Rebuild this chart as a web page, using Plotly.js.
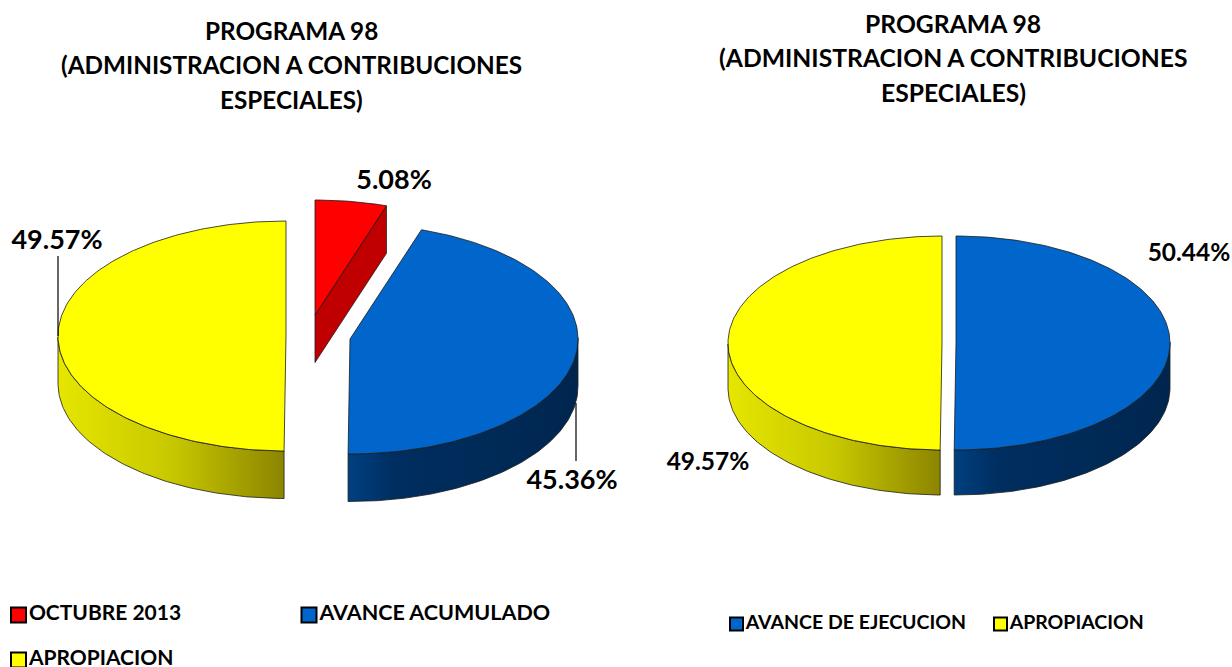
<!DOCTYPE html>
<html>
<head>
<meta charset="utf-8">
<script src="https://cdn.plot.ly/plotly-3.0.1.min.js"></script>
<style>html,body{margin:0;padding:0;background:#fff}</style>
</head>
<body>
<div id="chart" style="width:1232px;height:667px"></div>
<script>
// --- data ---
const titleLines = ['PROGRAMA 98', '(ADMINISTRACION A CONTRIBUCIONES', 'ESPECIALES)'];
const leftCategories = ['OCTUBRE 2013', 'AVANCE ACUMULADO', 'APROPIACION'];
const leftValues = [5.08, 45.36, 49.57];
const rightCategories = ['AVANCE DE EJECUCION', 'APROPIACION'];
const rightValues = [50.44, 49.57];

// --- styling and layout of the marks ---
const FONT = 'Lato, Carlito, Calibri, sans-serif';
const topColor = {'OCTUBRE 2013':'#ff0000','AVANCE ACUMULADO':'#0066cc','AVANCE DE EJECUCION':'#0066cc','APROPIACION':'#ffff00'};
const sideScale = {
  'OCTUBRE 2013':[[0,'#c00000'],[1,'#c00000']],
  'AVANCE ACUMULADO':[[0,'#004080'],[0.2,'#002e60'],[1,'#00264f']],
  'AVANCE DE EJECUCION':[[0,'#004080'],[0.2,'#002e60'],[1,'#00264f']],
  'APROPIACION':[[0,'#e6e600'],[0.5,'#c8c800'],[1,'#8c8500']]
};
const OUTLINE = '#1a1a1a';
const leftPie = {rx:228, ry:115, depth:47.5, centers:[[315,315],[350,339],[286,336]]};
const rightPie = {rx:214, ry:107, depth:45, centers:[[956,343],[942,343]]};

// Excel's 3D projection squeezes the angle slightly toward the far side
const DEG = Math.PI/180;
const warp = d => d - 1.1*Math.pow(Math.sin(d*DEG/2),2);
const pt = (c,g,d,drop) => [c[0]+g.rx*Math.sin(warp(d)*DEG), c[1]-g.ry*Math.cos(warp(d)*DEG)+(drop||0)];
function arc(c,g,a,b,drop){
  const n = Math.max(2,Math.ceil(Math.abs(b-a))), out=[];
  for(let i=0;i<=n;i++) out.push(pt(c,g,a+(b-a)*i/n,drop));
  return out;
}
function poly(points,color,scale){
  const pts = points.concat([points[0]]);
  const t = {type:'scatter',mode:'lines',x:pts.map(p=>p[0]),y:pts.map(p=>p[1]),fill:'toself',
    line:{color:OUTLINE,width:0.8},hoverinfo:'skip',showlegend:false};
  if(scale) t.fillgradient={type:'horizontal',colorscale:scale};
  else t.fillcolor=color;
  return t;
}
function slices(cats,vals,g){
  const sides=[], tops=[]; let a=0;
  vals.forEach((v,i)=>{
    const b=Math.min(a+v*3.6,360), c=g.centers[i], cat=cats[i];
    const s=Math.max(a,90), e=Math.min(b,270);
    if(e>s){
      sides.push(poly(arc(c,g,s,e,0).concat(arc(c,g,e,s,g.depth)),null,sideScale[cat]));
    }
    if(b<90){ // the right-hand cut face of an exploded top slice looks at the viewer
      const p=pt(c,g,b,0);
      sides.push(poly([c,p,[p[0],p[1]+g.depth],[c[0],c[1]+g.depth]],null,sideScale[cat]));
    }
    tops.push(poly([c].concat(arc(c,g,a,b,0)),topColor[cat]));
    a=b;
  });
  return sides.concat(tops);
}
const pct = v => v.toFixed(2)+'%';
const dataLabel = (x,y,v,size) => ({type:'scatter',mode:'text',x:[x],y:[y],text:[pct(v)],textposition:'middle center',
  textfont:{family:FONT,size:size,color:'#000',weight:700},hoverinfo:'skip',showlegend:false});
const leader = (xs,ys) => ({type:'scatter',mode:'lines',x:xs,y:ys,line:{color:'#000',width:1.2},hoverinfo:'skip',showlegend:false});
const key = (x,y,cat,msize,fsize) => ({type:'scatter',mode:'markers+text',x:[x],y:[y],text:[cat],textposition:'middle right',
  marker:{symbol:'square',size:msize,color:topColor[cat],line:{color:'#000',width:2}},
  textfont:{family:FONT,size:fsize,color:'#000',weight:700},hoverinfo:'skip',showlegend:false});

const data = [].concat(
  slices(leftCategories,leftValues,leftPie),
  slices(rightCategories,rightValues,rightPie),
  [leader([58,58],[256,336]), leader([576,576],[403,461])],
  [dataLabel(394,182,leftValues[0],27), dataLabel(572,482,leftValues[1],27), dataLabel(57,242,leftValues[2],27),
   dataLabel(1189,255,rightValues[0],24.5), dataLabel(708,464,rightValues[1],24.5)],
  [key(18.5,615,leftCategories[0],15,21), key(309,615,leftCategories[1],15,21.5), key(18.5,660,leftCategories[2],15,21),
   key(736.5,624,rightCategories[0],13,19.5), key(1000.5,624,rightCategories[1],13,19.5)]
);

const titleAnn = (x,ys,size) => titleLines.map((text,i)=>({text,xref:'x',yref:'y',x,y:ys[i],showarrow:false,align:'center',
  font:{family:FONT,size:size,color:'#000',weight:700}}));
const layout = {
  width:1232,height:667,margin:{l:0,r:0,t:0,b:0},paper_bgcolor:'#fff',plot_bgcolor:'#fff',showlegend:false,
  xaxis:{range:[0,1232],visible:false,fixedrange:true},
  yaxis:{range:[667,0],visible:false,fixedrange:true},
  annotations:[].concat(titleAnn(291,[30,64.5,99],24.3), titleAnn(953,[23,57.5,92],24.7))
};
Plotly.newPlot('chart',data,layout,{staticPlot:true,displayModeBar:false});
</script>
</body>
</html>
